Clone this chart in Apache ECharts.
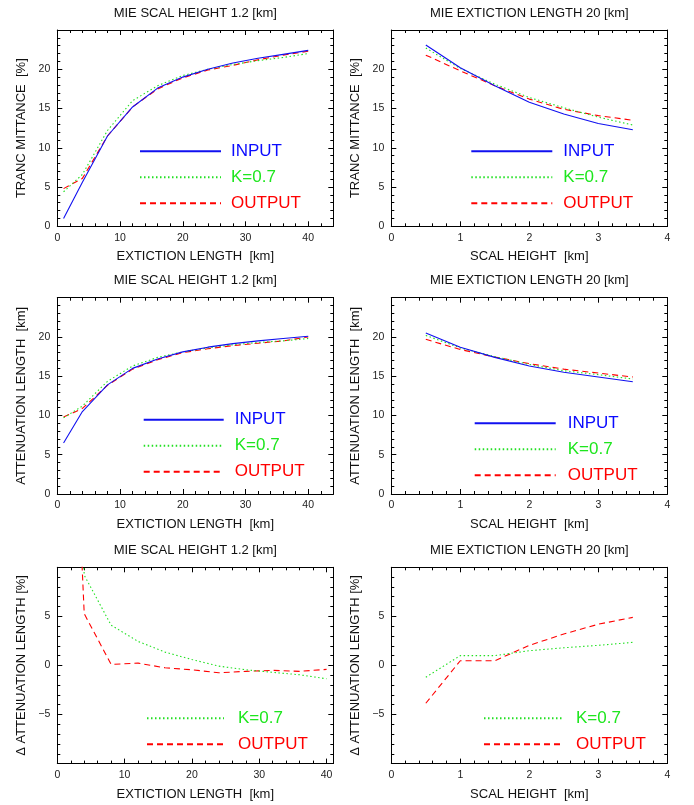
<!DOCTYPE html>
<html><head><meta charset="utf-8">
<script src="https://cdn.jsdelivr.net/npm/echarts@6/dist/echarts.min.js"></script>
<style>html,body{margin:0;padding:0;background:#fff}#c{width:694px;height:805px}</style>
</head><body><div id="c"></div>
<script>
// ---- data ----
const extLen = [1, 4, 8, 12, 16, 20, 24, 28, 32, 36, 40];
const scalH = [0.5, 1, 1.5, 2, 2.5, 3, 3.5];

const trInputExt = [1.0, 5.6, 11.5, 15.2, 17.6, 19.0, 20.0, 20.8, 21.4, 21.9, 22.4];
const trKExt     = [4.4, 6.6, 12.2, 16.0, 17.9, 19.2, 20.0, 20.6, 21.1, 21.5, 22.0];
const trOutExt   = [4.8, 6.1, 11.5, 15.2, 17.5, 18.9, 19.9, 20.5, 21.2, 21.8, 22.3];

const trInputSH = [23.1, 20.2, 17.9, 15.8, 14.3, 13.1, 12.3];
const trKSH     = [22.7, 20.1, 18.1, 16.4, 15.1, 13.9, 12.9];
const trOutSH   = [21.8, 19.8, 17.9, 16.2, 14.9, 14.1, 13.5];

const atInputExt = [6.5, 10.5, 13.9, 16.0, 17.2, 18.1, 18.7, 19.15, 19.5, 19.8, 20.1];
const atKExt     = [9.7, 11.2, 14.35, 16.3, 17.4, 18.1, 18.6, 19.0, 19.3, 19.5, 19.8];
const atOutExt   = [9.8, 10.9, 13.85, 15.9, 17.1, 18.0, 18.5, 18.9, 19.2, 19.5, 20.0];

const atInputSH = [20.5, 18.7, 17.4, 16.3, 15.5, 14.9, 14.3];
const atKSH     = [20.2, 18.6, 17.5, 16.5, 15.7, 15.2, 14.65];
const atOutSH   = [19.7, 18.4, 17.45, 16.6, 15.9, 15.4, 14.9];

const dKExt   = [49, 9.2, 4.1, 2.45, 1.36, 0.6, -0.07, -0.44, -0.7, -0.95, -1.36];
const dOutExt = [51, 5.27, 0.1, 0.24, -0.24, -0.44, -0.75, -0.6, -0.5, -0.6, -0.4];

const dKSH   = [-1.2, 1.0, 1.0, 1.5, 1.8, 2.05, 2.35];
const dOutSH = [-3.85, 0.48, 0.48, 2.05, 3.2, 4.2, 4.9];

const titleLeft = 'MIE SCAL HEIGHT 1.2 [km]';
const titleRight = 'MIE EXTICTION LENGTH 20 [km]';
const xNameLeft = 'EXTICTION LENGTH  [km]';
const xNameRight = 'SCAL HEIGHT  [km]';
const yNames = ['TRANC MITTANCE  [%]', 'ATTENUATION LENGTH  [km]', '\u0394 ATTENUATION LENGTH [%]'];
const seriesNames = ['INPUT', 'K=0.7', 'OUTPUT'];

// ---- styles ----
const FONT = '"Liberation Sans", Arial, Helvetica, sans-serif';
const COL = { 'INPUT': '#1010f0', 'K=0.7': '#22e022', 'OUTPUT': '#ff0000' };
const TXT = { 'INPUT': '#0a0aff', 'K=0.7': '#1ee61e', 'OUTPUT': '#ff0000' };
const LTYPE = { 'INPUT': 'solid', 'K=0.7': [1.5, 2.5], 'OUTPUT': [6, 4] };

const colLeft = [57.3, 391.3];
const rowTop = [30, 297.7, 567.3];
const W = 276, H = 196.3;

const panels = [
  { r: 0, c: 0, x: extLen, ys: [trInputExt, trKExt, trOutExt], names: seriesNames,
    xr: [0, 44, 10, 2], yr: [0, 25, 5, 1], leg: [139, 141.2, 81, 10] },
  { r: 0, c: 1, x: scalH, ys: [trInputSH, trKSH, trOutSH], names: seriesNames,
    xr: [0, 4, 1, 0.2], yr: [0, 25, 5, 1], leg: [470.3, 141.2, 81, 11] },
  { r: 1, c: 0, x: extLen, ys: [atInputExt, atKExt, atOutExt], names: seriesNames,
    xr: [0, 44, 10, 2], yr: [0, 25, 5, 1], leg: [142.7, 409.8, 80, 11] },
  { r: 1, c: 1, x: scalH, ys: [atInputSH, atKSH, atOutSH], names: seriesNames,
    xr: [0, 4, 1, 0.2], yr: [0, 25, 5, 1], leg: [473.7, 413.2, 81, 12] },
  { r: 2, c: 0, x: extLen, ys: [dKExt, dOutExt], names: ['K=0.7', 'OUTPUT'],
    xr: [0, 41, 10, 2], yr: [-10, 10, 5, 1], leg: [146, 708.2, 77, 14] },
  { r: 2, c: 1, x: scalH, ys: [dKSH, dOutSH], names: ['K=0.7', 'OUTPUT'],
    xr: [0, 4, 1, 0.2], yr: [-10, 10, 5, 1], leg: [483, 708.2, 79, 13] }
];

const grid = [], xAxis = [], yAxis = [], series = [], title = [], legend = [];
const fmt = v => String(v).replace('-', '\u2212');

panels.forEach((p, i) => {
  const left = colLeft[p.c], top = rowTop[p.r];
  grid.push({ left: left, top: top, width: W, height: H, containLabel: false });
  title.push({ text: p.c === 0 ? titleLeft : titleRight, left: left + W / 2, top: top - 23.5, textAlign: 'center', padding: 0,
    textStyle: { fontFamily: FONT, fontSize: 13, fontWeight: 'normal', color: '#111' } });
  const isRightCol = p.c === 1;
  const xMaxLabel = isRightCol;
  const yHideEnds = p.r === 2;
  const base = (pos, extra) => Object.assign({
    gridIndex: i, type: 'value', position: pos, splitLine: { show: false },
    axisLine: { show: true, onZero: false, lineStyle: { color: '#000', width: 1 } },
    axisTick: { show: true, inside: true, length: 5, lineStyle: { color: '#000', width: 1 } },
    axisLabel: { show: false }
  }, extra);
  const minorAx = (pos, min, max, iv) => base(pos, { min, max, interval: iv,
    axisLine: { show: false, onZero: false }, axisTick: { show: true, inside: true, length: 3, lineStyle: { color: '#000', width: 1 } } });
  const [xmin, xmax, xmaj, xmin2] = p.xr;
  const [ymin, ymax, ymaj, ymin2] = p.yr;
  xAxis.push(base('bottom', { min: xmin, max: xmax, interval: xmaj,
    axisLabel: { show: true, margin: 6, showMaxLabel: xMaxLabel, showMinLabel: true, color: '#222', fontSize: 10.5, fontFamily: FONT, formatter: fmt },
    name: p.c === 0 ? xNameLeft : xNameRight, nameLocation: 'middle', nameGap: 24,
    nameTextStyle: { fontFamily: FONT, fontSize: 13, color: '#111' } }));
  xAxis.push(base('top', { min: xmin, max: xmax, interval: xmaj }));
  xAxis.push(minorAx('bottom', xmin, xmax, xmin2));
  xAxis.push(minorAx('top', xmin, xmax, xmin2));
  yAxis.push(base('left', { min: ymin, max: ymax, interval: ymaj,
    axisLabel: { show: true, margin: 7, showMaxLabel: false, showMinLabel: !yHideEnds, color: '#222', fontSize: 10.5, fontFamily: FONT, formatter: fmt },
    name: yNames[p.r], nameLocation: 'middle', nameGap: 29,
    nameTextStyle: { fontFamily: FONT, fontSize: 13, color: '#111' } }));
  yAxis.push(base('right', { min: ymin, max: ymax, interval: ymaj }));
  yAxis.push(minorAx('left', ymin, ymax, ymin2));
  yAxis.push(minorAx('right', ymin, ymax, ymin2));

  p.names.forEach((nm, k) => {
    series.push({
      name: nm, type: 'line', xAxisIndex: 4 * i, yAxisIndex: 4 * i,
      data: p.x.map((xv, j) => [xv, p.ys[k][j]]),
      symbol: 'none', showSymbol: false, clip: true, animation: false,
      lineStyle: { color: COL[nm], width: 1.1, type: LTYPE[nm] },
      itemStyle: { color: COL[nm] }, z: 3 - k
    });
  });
  const [lx, ly, lw, lg] = p.leg;
  legend.push({
    left: lx, top: ly, orient: 'vertical', padding: 0, itemGap: 6, itemWidth: lw, itemHeight: 14,
    selectedMode: false,
    itemStyle: { opacity: 0, color: 'rgba(0,0,0,0)', borderWidth: 0 },
    data: p.names.map(nm => ({ name: nm, textStyle: { color: TXT[nm] } })),
    textStyle: { fontFamily: FONT, fontSize: 17, lineHeight: 20, padding: [0, 0, 0, lg - 5] }
  });
});

const chart = echarts.init(document.getElementById('c'), null, { renderer: 'canvas' });
chart.setOption({ animation: false, backgroundColor: '#fff', grid, xAxis, yAxis, series, title, legend });
</script></body></html>
